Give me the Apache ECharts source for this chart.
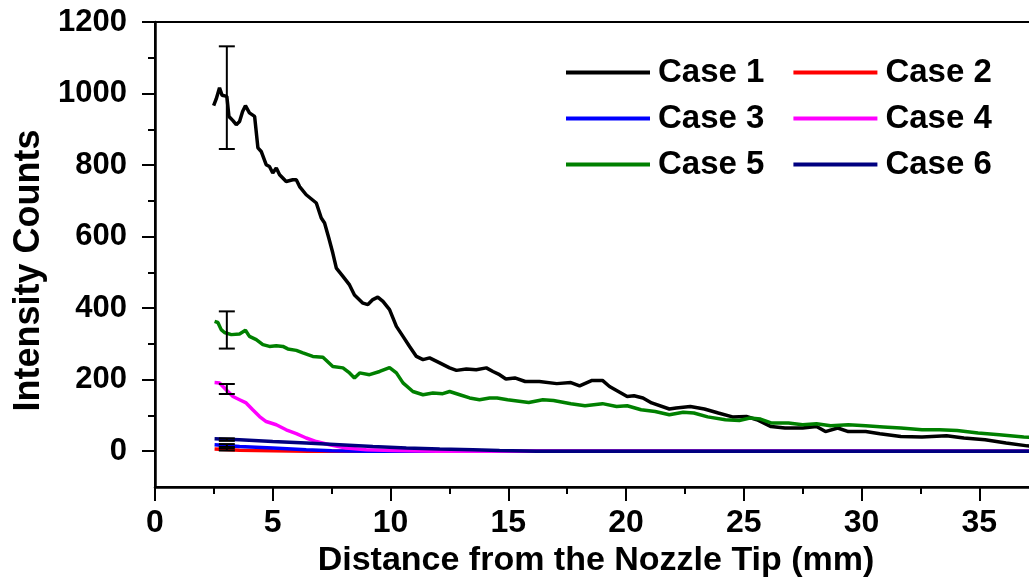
<!DOCTYPE html>
<html>
<head>
<meta charset="utf-8">
<script src="https://cdn.jsdelivr.net/npm/echarts@6/dist/echarts.min.js"></script>
<style>
html,body{margin:0;padding:0;background:#fff;}
#chart{width:1029px;height:583px;}
</style>
</head>
<body>
<div id="chart"></div>
<script>
// ---- data ----
var seriesNames = ['Case 1', 'Case 2', 'Case 3', 'Case 4', 'Case 5', 'Case 6'];
var seriesColors = ['#000000', '#ff0000', '#0000ff', '#ff00ff', '#008000', '#000080'];

var case1 = [[2.49,966],[2.6,985],[2.74,1016],[2.85,995],[3.05,992],[3.14,936],[3.3,925],[3.45,913],[3.59,922],[3.72,950],[3.84,966],[4.01,946],[4.23,936],[4.37,848],[4.51,838],[4.72,801],[4.86,796],[5.0,778],[5.15,792],[5.29,773],[5.57,754],[5.85,759],[6.0,759],[6.14,740],[6.42,717],[6.85,694],[7.06,652],[7.2,638],[7.38,596],[7.55,554],[7.7,512],[7.98,489],[8.26,465],[8.47,437],[8.83,414],[9.04,410],[9.25,424],[9.46,431],[9.68,419],[9.96,396],[10.25,349],[10.53,321],[10.81,293],[11.1,265],[11.38,256],[11.66,261],[12.09,247],[12.51,233],[12.8,226],[13.22,230],[13.64,228],[14.07,233],[14.35,223],[14.63,214],[14.9,202],[15.28,205],[15.72,195],[16.32,195],[17.06,189],[17.66,192],[18.03,183],[18.56,198],[19.0,198],[19.3,181],[20.05,153],[20.34,155],[20.72,149],[21.09,135],[21.84,118],[22.13,121],[22.73,125],[23.33,118],[23.92,107],[24.52,96],[25.11,97],[25.56,88],[26.16,69],[26.75,65],[27.5,65],[28.09,69],[28.47,55],[28.99,65],[29.44,55],[30.18,55],[30.78,49],[31.67,41],[32.57,40],[33.61,43],[34.35,37],[35.25,32],[36.14,23],[37.04,15],[37.5,12]];

var case2 = [[2.53,6],[3.59,3],[5.0,1],[6.5,0],[10,0],[15,0],[20,0],[25,0],[30,0],[35,0],[40,0]];

var case3 = [[2.53,18],[3.59,13],[5.0,9],[6.42,4],[7.5,1],[9,0],[15,0],[20,0],[25,0],[30,0],[35,0],[40,0]];

var case4 = [[2.53,192],[2.74,191],[3.02,172],[3.31,153],[3.59,144],[3.87,135],[4.15,116],[4.44,97],[4.72,83],[5.15,74],[5.57,60],[6.0,49],[6.42,37],[6.85,27],[7.41,18],[8.12,9],[8.97,4],[10.1,2],[12,0],[15,0],[20,0],[25,0],[30,0],[35,0],[40,0]];

var case5 = [[2.53,363],[2.67,360],[2.81,340],[2.95,332],[3.24,326],[3.59,328],[3.84,338],[4.01,321],[4.3,312],[4.58,298],[4.86,293],[5.15,295],[5.43,293],[5.64,286],[6.0,282],[6.28,275],[6.7,265],[7.13,263],[7.55,237],[7.98,233],[8.26,219],[8.47,205],[8.69,219],[9.11,214],[9.54,223],[9.96,234],[10.25,219],[10.53,191],[10.95,167],[11.38,158],[11.8,163],[12.22,161],[12.51,167],[12.94,158],[13.36,149],[13.78,144],[14.21,149],[14.53,149],[14.97,144],[15.87,136],[16.47,144],[16.92,142],[17.66,133],[18.26,127],[19.0,133],[19.6,125],[20.05,127],[20.64,116],[21.24,111],[21.84,102],[22.43,109],[22.88,107],[23.47,96],[24.22,88],[24.81,86],[25.26,93],[25.71,90],[26.16,79],[26.9,79],[27.5,74],[28.09,77],[28.69,71],[29.44,74],[30.18,71],[30.93,68],[31.67,65],[32.57,60],[33.31,60],[34.06,58],[34.95,51],[35.85,46],[36.89,40],[37.5,37]];

var case6 = [[2.53,35],[3.59,32],[5.0,27],[6.42,23],[7.83,18],[9.25,13],[10.67,9],[12.09,6],[13.5,4],[14.63,2],[16.2,0],[20,0],[25,0],[30,0],[35,0],[40,0]];

// error bars: [x, low, high]
var errorBars = [[3.05,845,1132],[3.05,2,8],[3.05,12,20],[3.05,160,188],[3.05,287,391],[3.05,29,36]];

var xTicks = [0, 5, 10, 15, 20, 25, 30, 35];
var yTicks = [0, 200, 400, 600, 800, 1000, 1200];
var yMinorTicks = [100, 300, 500, 700, 900, 1100];

var xTitle = 'Distance from the Nozzle Tip (mm)';
var yTitle = 'Intensity Counts';

// ---- chart ----
var FONT = "'Liberation Sans', Arial, sans-serif";
var allData = [case1, case2, case3, case4, case5, case6];
var chart = echarts.init(document.getElementById('chart'), null, {renderer: 'canvas'});

var lineSeries = allData.map(function (d, i) {
  return {
    name: seriesNames[i],
    type: 'line',
    data: d,
    showSymbol: false,
    symbol: 'none',
    lineStyle: {color: seriesColors[i], width: 3.5},
    itemStyle: {color: seriesColors[i]},
    z: 2 + i,
    clip: true
  };
});

var errSeries = {
  type: 'custom',
  name: 'err',
  data: errorBars,
  encode: {x: 0, y: [1, 2]},
  z: 20,
  silent: true,
  renderItem: function (params, api) {
    var x = api.value(0);
    var lo = api.coord([x, api.value(1)]);
    var hi = api.coord([x, api.value(2)]);
    var hw = 8;
    var st = {stroke: '#000', lineWidth: 2};
    return {
      type: 'group',
      children: [
        {type: 'line', shape: {x1: hi[0], y1: hi[1], x2: lo[0], y2: lo[1]}, style: st},
        {type: 'line', shape: {x1: hi[0] - hw, y1: hi[1], x2: hi[0] + hw, y2: hi[1]}, style: st},
        {type: 'line', shape: {x1: lo[0] - hw, y1: lo[1], x2: lo[0] + hw, y2: lo[1]}, style: st}
      ]
    };
  }
};

var option = {
  animation: false,
  backgroundColor: '#fff',
  textStyle: {fontFamily: FONT},
  grid: {left: 155, top: 22, width: 942, height: 465, outerBoundsMode: 'none', containLabel: false,
    show: true, borderColor: '#000', borderWidth: 2, backgroundColor: 'transparent'},
  legend: {
    data: seriesNames,
    left: 566, top: 56,
    width: 450,
    padding: 0,
    itemGap: 13,
    itemWidth: 84, itemHeight: 4,
    icon: 'rect',
    textStyle: {fontFamily: FONT, fontSize: 33, fontWeight: 'bold', color: '#000', lineHeight: 33, padding: [0, 16, 0, 3]}
  },
  xAxis: {
    type: 'value',
    min: 0, max: 40, interval: 5,
    name: xTitle,
    nameLocation: 'middle',
    nameGap: 53,
    nameTextStyle: {fontFamily: FONT, fontSize: 34, fontWeight: 'bold', color: '#000', padding: [0, 60, 0, 0]},
    axisLine: {show: true, onZero: false, lineStyle: {color: '#000', width: 2.5}},
    axisTick: {show: true, inside: false, length: 14, lineStyle: {color: '#000', width: 2}},
    minorTick: {show: true, splitNumber: 2, length: 7, lineStyle: {color: '#000', width: 2}},
    axisLabel: {fontFamily: FONT, fontSize: 32, fontWeight: 'bold', color: '#000', margin: 20,
      formatter: function (v) { return xTicks.indexOf(v) >= 0 ? String(v) : ''; }},
    splitLine: {show: false},
    minorSplitLine: {show: false}
  },
  yAxis: [{
    type: 'value',
    min: -100, max: 1200, interval: 100,
    position: 'left',
    name: yTitle,
    nameLocation: 'middle',
    nameGap: 108,
    nameRotate: 90,
    nameTextStyle: {fontFamily: FONT, fontSize: 36, fontWeight: 'bold', color: '#000', padding: [0, 32, 0, 0]},
    axisLine: {show: true, onZero: false, lineStyle: {color: '#000', width: 2.5}},
    axisTick: {show: true, inside: false, length: 13, customValues: yTicks, lineStyle: {color: '#000', width: 2}},
    axisLabel: {fontFamily: FONT, fontSize: 31, fontWeight: 'bold', color: '#000', margin: 28, customValues: yTicks,
      formatter: function (v) { return String(v); }},
    splitLine: {show: false}
  }, {
    type: 'value',
    min: -100, max: 1200, interval: 100,
    position: 'left',
    axisLine: {show: false},
    axisTick: {show: true, inside: false, length: 7, customValues: yMinorTicks, lineStyle: {color: '#000', width: 2}},
    axisLabel: {show: false},
    splitLine: {show: false}
  }],
  series: lineSeries.concat([errSeries])
};
chart.setOption(option);
</script>
</body>
</html>
